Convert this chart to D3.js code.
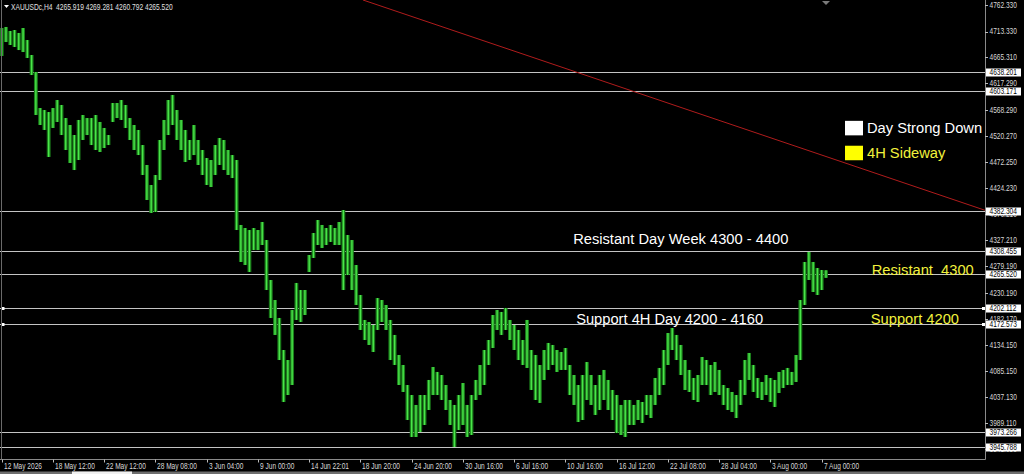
<!DOCTYPE html>
<html><head><meta charset="utf-8">
<script src="https://cdn.jsdelivr.net/npm/d3@7/dist/d3.min.js"></script>
<style>html,body{margin:0;padding:0;background:#000;overflow:hidden}svg{display:block}</style>
</head><body>
<svg id="c" width="1024" height="474"></svg>
<script>
// ---- data (one entry per pair of H4 bars) ----
const highs = [4719.8,4721.7,4714.3,4716.1,4710.6,4719.8,4697.6,4669.9,4638.5,4571.9,
4568.2,4564.5,4571.9,4586.7,4577.5,4553.4,4540.5,4522.0,4549.8,4559.0,
4553.4,4553.4,4559.0,4546.1,4535.0,4522.0,4581.2,4581.2,4586.7,4577.5,
4553.4,4540.5,4531.3,4503.5,4466.6,4429.6,4448.1,4512.8,4549.8,4586.7,
4596.0,4568.2,4549.8,4531.3,4512.8,4540.5,4512.8,4494.3,4479.5,4475.8,
4503.5,4516.5,4512.8,4494.3,4485.0,4475.8,4355.7,4350.1,4346.4,4350.1,
4346.4,4361.2,4327.9,4254.0,4217.0,4183.8,4124.6,4106.1,4198.5,4248.5,
4235.5,4235.5,4300.2,4340.9,4364.9,4355.7,4350.1,4355.7,4350.1,4361.2,
4383.4,4337.2,4327.9,4281.7,4226.3,4180.1,4176.4,4170.8,4220.7,4217.0,
4207.8,4180.1,4152.4,4115.4,4096.9,4059.9,4041.4,4023.0,4041.4,4041.4,
4069.2,4093.2,4084.0,4078.4,4059.9,4032.2,4023.0,4041.4,4063.6,4023.0,
4041.4,4069.2,4096.9,4124.6,4143.1,4189.3,4198.5,4194.9,4202.3,4180.1,
4170.8,4161.6,4143.1,4180.1,4124.6,4115.4,4096.9,4124.6,4137.6,4133.9,
4124.6,4120.9,4128.3,4096.9,4078.4,4059.9,4078.4,4102.4,4078.4,4059.9,
4078.4,4087.7,4069.2,4050.7,4041.4,4023.0,4032.2,4032.2,4023.0,4032.2,
4028.5,4041.4,4041.4,4072.9,4091.4,4124.6,4156.0,4165.3,4152.4,4133.9,
4106.1,4087.7,4072.9,4078.4,4111.7,4106.1,4096.9,4102.4,4087.7,4059.9,
4054.4,4047.0,4041.4,4069.2,4106.1,4119.1,4096.9,4072.9,4065.5,4078.4,
4072.9,4069.2,4084.0,4087.7,4091.4,4084.0,4115.4,4217.0,4287.3,4305.8,
4287.3,4276.2,4272.5,4272.0];
const lows = [4668.1,4693.9,4688.4,4684.7,4679.1,4675.4,4664.4,4632.9,4559.0,4540.5,
4531.3,4481.4,4535.0,4546.1,4522.0,4494.3,4470.3,4457.3,4475.8,4512.8,
4522.0,4503.5,4494.3,4490.6,4498.0,4503.5,4546.1,4553.4,4549.8,4535.0,
4512.8,4494.3,4485.0,4448.1,4401.9,4377.9,4379.7,4438.8,4494.3,4522.0,
4540.5,4512.8,4494.3,4472.1,4475.8,4485.0,4466.6,4448.1,4429.6,4425.9,
4448.1,4466.6,4457.3,4448.1,4442.5,4346.4,4287.3,4281.7,4268.8,4309.4,
4309.4,4318.7,4235.5,4183.8,4152.4,4106.1,4028.5,4041.4,4059.9,4180.1,
4176.4,4189.3,4268.8,4294.7,4318.7,4313.2,4318.7,4324.3,4318.7,4318.7,
4235.5,4263.2,4235.5,4207.8,4161.6,4143.1,4133.9,4120.9,4161.6,4176.4,
4161.6,4106.1,4096.9,4059.9,4047.0,3995.2,3963.8,3963.8,3973.0,3986.0,
4013.7,4041.4,4041.4,4032.2,4013.7,3986.0,3945.3,3976.7,3986.0,3963.8,
3967.5,4032.2,4041.4,4059.9,4096.9,4128.3,4161.6,4152.4,4161.6,4143.1,
4124.6,4106.1,4096.9,4091.4,4050.7,4032.2,4026.7,4069.2,4087.7,4096.9,
4084.0,4087.7,4087.7,4041.4,4023.0,3991.5,3995.2,4032.2,4023.0,4004.5,
4013.7,4032.2,4013.7,3995.2,3971.2,3967.5,3963.8,3986.0,3986.0,3995.2,
3989.7,4004.5,3998.9,4023.0,4041.4,4059.9,4096.9,4124.6,4106.1,4078.4,
4050.7,4047.0,4032.2,4028.5,4059.9,4059.9,4041.4,4047.0,4041.4,4023.0,
4013.7,4010.0,3998.9,4023.0,4041.4,4069.2,4047.0,4035.9,4032.2,4041.4,
4028.5,4019.3,4045.1,4054.4,4059.9,4059.9,4065.5,4106.1,4207.8,4254.0,
4231.8,4226.3,4235.5,4258.0];

const timeLabels = ["12 May 2026","18 May 12:00","22 May 12:00","28 May 08:00","3 Jun 04:00","9 Jun 00:00",
  "14 Jun 22:01","18 Jun 20:00","24 Jun 20:00","30 Jun 16:00","6 Jul 16:00","10 Jul 16:00",
  "16 Jul 12:00","22 Jul 08:00","28 Jul 04:00","3 Aug 00:00","7 Aug 00:00"];
const timeLabelBars = [0,12,24,36,48,60,72,84,96,108,120,132,144,156,168,180,192];

const priceTicks = [4762.330,4713.330,4665.310,4617.290,4568.290,4520.270,4472.250,4424.230,4376.210,
  4327.210,4279.190,4230.190,4182.170,4134.150,4085.150,4037.130,3989.110,3941.090];
const levelLines = [4638.201,4603.171,4382.304,4308.455,4265.520,4202.112,4172.573,3973.266,3945.788];
const markedLevels = [4202.112,4172.573];
const trendLine = [[84.6,4771.6],[230.2,4383.0]];
const headerText = "XAUUSDc,H4  4265.919 4269.281 4260.792 4265.520";
const whiteNotes = [
  {text:"Resistant Day Week 4300 - 4400", bar:133.8, price:4321},
  {text:"Support 4H Day 4200 - 4160", bar:134.5, price:4173}
];
const yellowNotes = [
  {text:"Resistant  4300", bar:203.7, price:4264},
  {text:"Support 4200", bar:203.5, price:4173}
];
const legendItems = [
  {text:"Day Strong Down", color:"#ffffff", box:"#ffffff", price:4526},
  {text:"4H Sideway", color:"#f2f23c", box:"#ffff00", price:4480}
];

// ---- layout ----
const W = 1024, H = 474, plotR = 985, plotB = 459.5;
const svg = d3.select("#c");
svg.append("rect").attr("width",W).attr("height",H).attr("fill","#000");

const x = d3.scaleLinear().domain([0,192]).range([1.7,821.7]);
const y = d3.scaleLinear().domain([3989.11,4762.33]).range([423.3,5]);

const smallFont = "'Liberation Sans',Arial,sans-serif";
const bigFont = "'Liberation Sans',Arial,sans-serif";
const smallSize = 8.5;

const probe = svg.append("text").attr("font-family",smallFont).attr("font-size",smallSize).text("4762.330");
const squeeze = 27.4 / probe.node().getComputedTextLength();
probe.remove();
function small(sel){
  sel.attr("font-family",smallFont).attr("font-size",smallSize);
  const L = sel.node().getComputedTextLength();
  sel.attr("textLength", L*squeeze).attr("lengthAdjust","spacingAndGlyphs");
  return sel;
}

const plot = svg.append("g");
svg.append("defs").append("clipPath").attr("id","pc")
  .append("rect").attr("x",0).attr("y",0).attr("width",plotR).attr("height",plotB);

// level lines
plot.selectAll("line.lvl").data(levelLines).join("line")
  .attr("x1",0).attr("x2",plotR)
  .attr("y1",d=>Math.round(y(d))+0.5).attr("y2",d=>Math.round(y(d))+0.5)
  .attr("stroke","#c4c4c4").attr("stroke-width",1);

markedLevels.forEach(v=>{
  [1.5, 982].forEach(px=>{
    plot.append("rect").attr("x",px).attr("y",Math.round(y(v))-1).attr("width",3).attr("height",3).attr("fill","#fff");
  });
});

// trend line
plot.append("line").attr("clip-path","url(#pc)")
  .attr("x1",x(trendLine[0][0])).attr("y1",y(trendLine[0][1]))
  .attr("x2",x(trendLine[1][0])).attr("y2",y(trendLine[1][1]))
  .attr("stroke","#b01c1c").attr("stroke-width",1);

// bars: dim halo + bright core
const step = x(1)-x(0);
plot.selectAll("rect.barh").data(highs).join("rect")
  .attr("x",(d,i)=>x(i)-step*0.45).attr("width",step*0.9)
  .attr("y",d=>y(d))
  .attr("height",(d,i)=>Math.max(1,y(lows[i])-y(d)))
  .attr("fill","#1b7e1b");
plot.selectAll("rect.barc").data(highs).join("rect")
  .attr("x",(d,i)=>x(i)-0.7).attr("width",1.4)
  .attr("y",d=>y(d))
  .attr("height",(d,i)=>Math.max(1,y(lows[i])-y(d)))
  .attr("fill","#4ae64a");

// borders
svg.append("line").attr("x1",plotR+0.5).attr("x2",plotR+0.5).attr("y1",0).attr("y2",plotB).attr("stroke","#8a8a8a");
svg.append("line").attr("x1",0).attr("x2",plotR+0.5).attr("y1",plotB).attr("y2",plotB).attr("stroke","#8a8a8a");
svg.append("line").attr("x1",1.5).attr("x2",1.5).attr("y1",0).attr("y2",plotB).attr("stroke","#6a6a6a");

// price axis
const pa = svg.append("g");
priceTicks.forEach(v=>{
  const py = y(v);
  pa.append("line").attr("x1",plotR).attr("x2",plotR+3).attr("y1",Math.round(py)+0.5).attr("y2",Math.round(py)+0.5).attr("stroke","#bbb");
  small(pa.append("text").attr("x",989.5).attr("y",py).attr("dy","0.35em").attr("fill","#d8d8d8").text(v.toFixed(3)));
});
levelLines.forEach(v=>{
  const py = Math.round(y(v));
  pa.append("rect").attr("x",986).attr("y",py-3.5).attr("width",35).attr("height",8).attr("fill","#fff");
  small(pa.append("text").attr("x",989.5).attr("y",py+0.5).attr("dy","0.35em").attr("fill","#000").text(v.toFixed(3)));
});

// time axis
timeLabelBars.forEach((b,i)=>{
  const tx = Math.round(x(b))+0.5;
  svg.append("line").attr("x1",tx).attr("x2",tx).attr("y1",plotB).attr("y2",plotB+3).attr("stroke","#bbb");
  small(svg.append("text").attr("x",tx+1.5).attr("y",466).attr("dy","0.35em").attr("fill","#d8d8d8").text(timeLabels[i]));
});
svg.append("rect").attr("x",0).attr("y",471.5).attr("width",W).attr("height",2.5).attr("fill","#6e6e6e");
svg.append("rect").attr("x",72).attr("y",471.5).attr("width",60).attr("height",2.5).attr("fill","#f0f0f0");

// header
svg.append("path").attr("d","M4,5 L9,5 L6.5,8 Z").attr("fill","#fff");
svg.append("text").attr("x",11).attr("y",7).attr("dy","0.35em")
  .attr("font-family",smallFont).attr("font-size",smallSize).attr("fill","#e0e0e0")
  .style("white-space","pre").attr("textLength",161.7).attr("lengthAdjust","spacingAndGlyphs").text(headerText);
svg.append("path").attr("d","M822,1 L830,1 L826,5 Z").attr("fill","#7a7a7a");

// notes
whiteNotes.forEach(n=>{
  svg.append("text").attr("x",x(n.bar)).attr("y",y(n.price))
    .attr("font-family",bigFont).attr("font-size",14.7).attr("fill","#ffffff")
    .style("white-space","pre").text(n.text);
});
yellowNotes.forEach(n=>{
  svg.append("text").attr("x",x(n.bar)).attr("y",y(n.price))
    .attr("font-family",bigFont).attr("font-size",14.7).attr("fill","#f2f23c")
    .style("white-space","pre").text(n.text);
});
legendItems.forEach(n=>{
  const py = y(n.price);
  svg.append("rect").attr("x",845).attr("y",py-12).attr("width",18).attr("height",14.5).attr("fill",n.box);
  svg.append("text").attr("x",867).attr("y",py)
    .attr("font-family",bigFont).attr("font-size",14.7).attr("fill",n.color).text(n.text);
});
</script>
</body></html>
